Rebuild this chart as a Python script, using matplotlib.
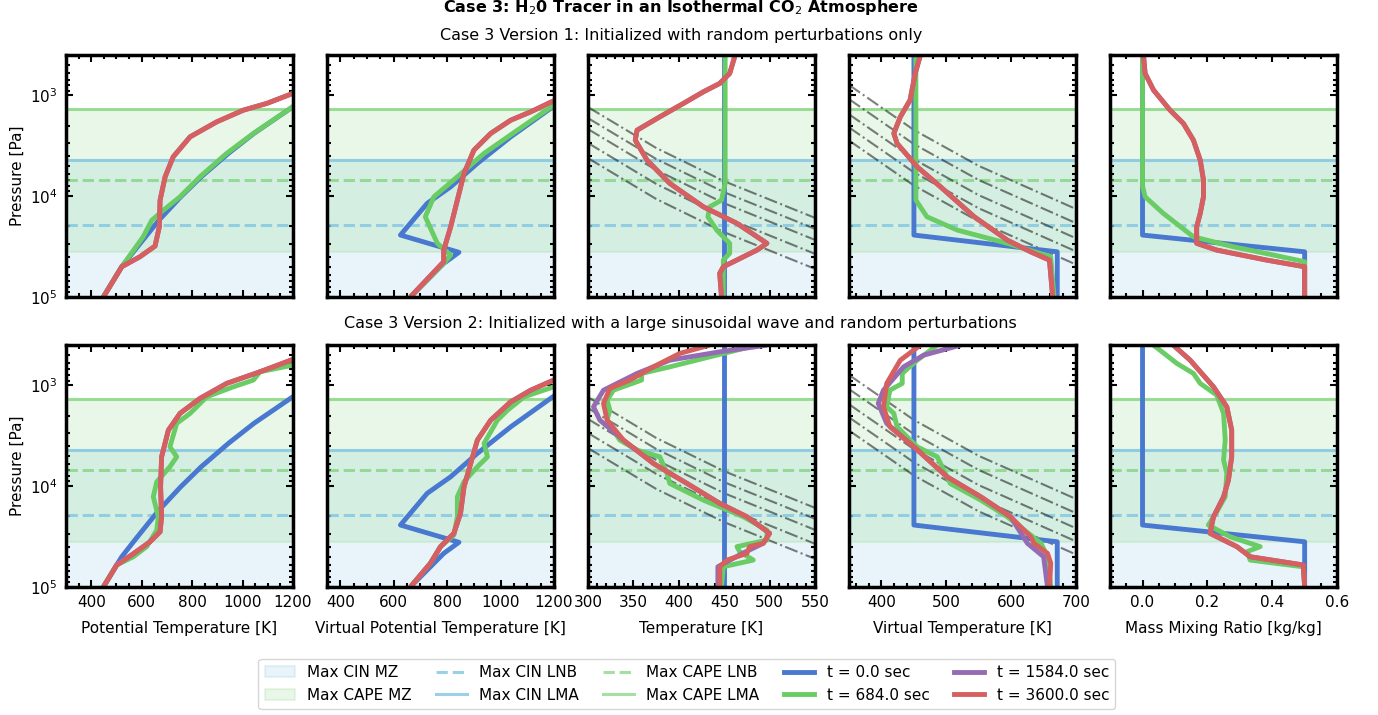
import numpy as np
import matplotlib.pyplot as plt
from matplotlib.lines import Line2D
from matplotlib.patches import Patch
from matplotlib.ticker import AutoMinorLocator, MultipleLocator

# seaborn "muted" colours
c_blue = '#4878d0'
c_green = '#6acc64'
c_purple = '#956cb4'
c_red = '#d65f5f'
c_cin = '#82c6e2'
c_cape = '#6acc64'

# reference levels [Pa]
cape_lma = 1377
cin_lma = 4400
cape_lnb = 6950
cin_lnb = 19400
cape_mz_bot = 35800
p_surf = 1e5

times = ['t = 0.0 sec', 't = 684.0 sec', 't = 1584.0 sec', 't = 3600.0 sec']

# dash-dot reference adiabats (temperature panel / virtual temperature panel)
adi_T = [300, 375, 450, 550]
adi_T_p = [[1315, 3334, 7130, 16440],
           [1690, 4285, 9160, 21130],
           [2170, 5510, 11780, 27160],
           [2985, 7570, 16180, 37330],
           [4210, 10670, 22800, 52600]]
adi_Tv = [350, 450, 550, 700]
adi_Tv_p = [[794, 2213, 5023, 13430],
            [1096, 3055, 6934, 18540],
            [1549, 4315, 9795, 26180],
            [2089, 5821, 13210, 35320],
            [2818, 7852, 17820, 47640]]

# profiles: (x values, log10 pressure)
# --- initial state (same in both versions) ---
theta_t0 = ([448, 521, 584, 668, 755, 836, 944, 1045, 1199, 1490],
            [5.0, 4.70, 4.50, 4.24, 4.007, 3.809, 3.577, 3.379, 3.116, 2.70])
thetav_t0 = ([662, 787, 844, 625, 725, 813, 913, 1038, 1199, 1490],
             [5.0, 4.667, 4.557, 4.386, 4.072, 3.908, 3.676, 3.413, 3.109, 2.70])
temp_t0 = ([450, 450], [2.604, 5.0])
tv_t0 = ([450, 450, 671, 671], [2.604, 4.386, 4.552, 5.0])
q_t0 = ([0.0, 0.0, 0.5, 0.5], [2.604, 4.386, 4.552, 5.0])

# --- version 1 ---
v1_theta_684 = ([448, 521, 606, 640, 686, 752, 831, 937, 1043, 1199, 1490],
                [5.0, 4.70, 4.403, 4.24, 4.14, 4.007, 3.809, 3.577, 3.379, 3.116, 2.70])
v1_theta_3600 = ([448, 521, 593, 653, 670, 673, 693, 725, 792, 898, 1003, 1096, 1199, 1400],
                 [5.0, 4.70, 4.601, 4.495, 4.304, 4.04, 3.809, 3.611, 3.413, 3.264, 3.149, 3.082, 2.983, 2.75])
v1_thetav_684 = ([662, 787, 813, 763, 718, 750, 838, 938, 1063, 1199, 1490],
                 [5.0, 4.667, 4.584, 4.468, 4.205, 4.007, 3.809, 3.577, 3.347, 3.099, 2.70])
v1_thetav_3600 = ([662, 787, 787, 813, 838, 863, 900, 963, 1038, 1113, 1199, 1400],
                  [5.0, 4.65, 4.535, 4.304, 4.04, 3.776, 3.545, 3.379, 3.248, 3.165, 3.056, 2.80])
v1_temp_684 = ([451, 451, 447, 434, 432, 442, 456, 456, 449, 449],
               [2.604, 3.874, 4.04, 4.106, 4.205, 4.34, 4.468, 4.567, 4.634, 5.0])
v1_temp_3600 = ([462, 456, 445, 427, 405, 379, 354, 352, 365, 390, 427, 464, 497, 486, 449, 445, 447],
                [2.604, 2.785, 2.884, 2.967, 3.082, 3.215, 3.347, 3.446, 3.644, 3.874, 4.106, 4.27,
                 4.468, 4.535, 4.70, 4.765, 5.0])
v1_tv_684 = ([453, 453, 470, 517, 594, 661, 666],
             [2.604, 4.04, 4.205, 4.337, 4.468, 4.60, 5.0])
v1_tv_3600 = ([460, 452, 444, 429, 419, 424, 455, 491, 543, 594, 630, 659, 664],
              [2.604, 2.785, 3.05, 3.215, 3.379, 3.478, 3.71, 3.908, 4.205, 4.436, 4.552, 4.634, 5.0])
v1_q_684 = ([0.0, 0.0, 0.008, 0.064, 0.157, 0.28, 0.404, 0.5, 0.5],
            [2.604, 3.90, 4.007, 4.171, 4.403, 4.502, 4.584, 4.65, 5.0])
v1_q_3600 = ([0.003, 0.008, 0.034, 0.085, 0.126, 0.157, 0.178, 0.188, 0.188, 0.178, 0.167, 0.167,
              0.229, 0.383, 0.5, 0.5],
             [2.604, 2.785, 2.95, 3.149, 3.28, 3.446, 3.644, 3.842, 4.007, 4.171, 4.304, 4.468,
              4.535, 4.634, 4.70, 5.0])

# --- version 2 ---
v2_theta_684 = ([448, 501, 567, 620, 660, 666, 646, 660, 712, 739, 712, 739, 792, 858, 963, 1043, 1069,
                 1199, 1350],
                [5.0, 4.782, 4.70, 4.60, 4.436, 4.304, 4.106, 3.957, 3.809, 3.71, 3.611, 3.379, 3.28,
                 3.116, 3.017, 2.95, 2.868, 2.802, 2.68])
v2_theta_3600 = ([448, 501, 567, 633, 673, 679, 675, 679, 706, 752, 831, 937, 1069, 1199, 1350],
                 [5.0, 4.782, 4.67, 4.552, 4.453, 4.304, 4.007, 3.71, 3.446, 3.28, 3.132, 2.983, 2.868,
                  2.746, 2.62])
v2_thetav_684 = ([662, 737, 775, 825, 838, 838, 863, 913, 951, 938, 988, 1026, 1088, 1199, 1350],
                 [5.0, 4.765, 4.60, 4.485, 4.304, 4.106, 3.957, 3.809, 3.71, 3.577, 3.347, 3.248, 3.116,
                  3.017, 2.87])
v2_thetav_3600 = ([662, 737, 775, 825, 850, 863, 888, 913, 963, 1038, 1113, 1199, 1350],
                  [5.0, 4.765, 4.60, 4.468, 4.27, 4.007, 3.776, 3.545, 3.347, 3.165, 3.05, 2.95, 2.80])
v2_temp_684 = ([486, 434, 390, 359, 359, 328, 321, 324, 321, 335, 354, 379, 387, 390, 427, 471, 497, 497,
                464, 467, 482, 449, 447],
               [2.604, 2.72, 2.819, 2.884, 2.95, 3.05, 3.149, 3.248, 3.347, 3.545, 3.644, 3.71, 3.874,
                3.974, 4.139, 4.304, 4.436, 4.535, 4.60, 4.65, 4.733, 4.799, 5.0])
v2_temp_1584 = ([497, 445, 390, 354, 317, 306, 313, 339, 372, 409, 445, 475, 500, 493, 470, 443, 443],
                [2.604, 2.67, 2.753, 2.884, 3.05, 3.215, 3.347, 3.545, 3.776, 3.974, 4.171, 4.304, 4.468,
                 4.567, 4.667, 4.799, 5.0])
v2_temp_3600 = ([434, 401, 372, 346, 324, 317, 321, 339, 372, 409, 445, 475, 500, 493, 478, 475, 453, 445,
                 445],
                [2.604, 2.686, 2.819, 2.95, 3.033, 3.181, 3.347, 3.545, 3.776, 3.974, 4.171, 4.304, 4.468,
                 4.567, 4.60, 4.667, 4.733, 4.799, 5.0])
v2_tv_684 = ([486, 455, 432, 432, 413, 408, 419, 424, 455, 486, 496, 506, 553, 594, 630, 646, 656, 661],
             [2.604, 2.753, 2.884, 2.983, 3.05, 3.215, 3.28, 3.413, 3.611, 3.71, 3.842, 3.974, 4.139,
              4.304, 4.485, 4.567, 4.70, 5.0])
v2_tv_1584 = ([522, 465, 434, 403, 395, 408, 450, 501, 553, 599, 625, 650, 656],
              [2.604, 2.703, 2.819, 3.05, 3.181, 3.379, 3.611, 3.908, 4.106, 4.304, 4.567, 4.70, 5.0])
v2_tv_3600 = ([460, 429, 408, 403, 413, 450, 501, 553, 599, 630, 635, 656, 661, 659],
              [2.604, 2.753, 2.983, 3.215, 3.413, 3.611, 3.908, 4.106, 4.304, 4.502, 4.567, 4.667, 4.765, 5.0])
v2_q_684 = ([0.034, 0.106, 0.157, 0.178, 0.229, 0.25, 0.255, 0.25, 0.26, 0.255, 0.229, 0.203, 0.27, 0.363,
             0.322, 0.332, 0.496, 0.5],
            [2.604, 2.785, 2.884, 2.983, 3.099, 3.28, 3.545, 3.743, 3.874, 4.106, 4.254, 4.386, 4.502, 4.60,
             4.65, 4.733, 4.80, 5.0])
v2_q_3600 = ([0.095, 0.147, 0.219, 0.26, 0.275, 0.275, 0.265, 0.25, 0.219, 0.208, 0.291, 0.332, 0.496, 0.5],
             [2.604, 2.753, 3.017, 3.215, 3.446, 3.71, 3.94, 4.106, 4.304, 4.468, 4.60, 4.70, 4.782, 5.0])

# panel order: theta, theta_v, T, Tv, q ; series order t0, 684, 1584, 3600
rows = [
    [[theta_t0, v1_theta_684, v1_theta_3600, v1_theta_3600],
     [thetav_t0, v1_thetav_684, v1_thetav_3600, v1_thetav_3600],
     [temp_t0, v1_temp_684, v1_temp_3600, v1_temp_3600],
     [tv_t0, v1_tv_684, v1_tv_3600, v1_tv_3600],
     [q_t0, v1_q_684, v1_q_3600, v1_q_3600]],
    [[theta_t0, v2_theta_684, v2_theta_3600, v2_theta_3600],
     [thetav_t0, v2_thetav_684, v2_thetav_3600, v2_thetav_3600],
     [temp_t0, v2_temp_684, v2_temp_1584, v2_temp_3600],
     [tv_t0, v2_tv_684, v2_tv_1584, v2_tv_3600],
     [q_t0, v2_q_684, v2_q_3600, v2_q_3600]],
]
colors = [c_blue, c_green, c_purple, c_red]

xlabels = ['Potential Temperature [K]', 'Virtual Potential Temperature [K]', 'Temperature [K]',
           'Virtual Temperature [K]', 'Mass Mixing Ratio [kg/kg]']
xlims = [(300, 1200), (350, 1200), (300, 550), (350, 700), (-0.1, 0.6)]
xmajor = [200, 200, 50, 100, 0.2]

fig, axes = plt.subplots(2, 5, figsize=(13.78, 7.15), dpi=100)
fig.subplots_adjust(left=0.0479, right=0.9703, top=0.9231, bottom=0.179, wspace=0.15, hspace=0.198)

for r in range(2):
    for c in range(5):
        ax = axes[r, c]
        ax.set_yscale('log')
        ax.axhspan(cin_lma, p_surf, facecolor=c_cin, alpha=0.18, edgecolor=c_cin, lw=1.5)
        ax.axhspan(cape_lma, cape_mz_bot, facecolor=c_cape, alpha=0.15, edgecolor=c_cape, lw=1.5)
        ax.axhline(cin_lnb, color=c_cin, ls='--', lw=2.2, alpha=0.8)
        ax.axhline(cin_lma, color=c_cin, lw=2.2, alpha=0.8)
        ax.axhline(cape_lnb, color=c_cape, ls='--', lw=2.2, alpha=0.6)
        ax.axhline(cape_lma, color=c_cape, lw=2.2, alpha=0.6)

        if c == 2:
            for pp in adi_T_p:
                ax.plot(adi_T, pp, color='k', ls='-.', lw=1.5, alpha=0.5)
        if c == 3:
            for pp in adi_Tv_p:
                ax.plot(adi_Tv, pp, color='k', ls='-.', lw=1.5, alpha=0.5)

        for (xs, lps), col in zip(rows[r][c], colors):
            ax.plot(xs, 10 ** np.array(lps), color=col, lw=3.5, solid_capstyle='butt')

        ax.set_xlim(*xlims[c])
        ax.set_ylim(1e5, 400)
        ax.xaxis.set_major_locator(MultipleLocator(xmajor[c]))
        ax.xaxis.set_minor_locator(AutoMinorLocator())
        ax.tick_params(which='both', direction='in', top=True, right=True, width=1.5, labelsize=11)
        ax.tick_params(which='major', length=5, pad=6)
        ax.tick_params(which='minor', length=3)
        for s in ax.spines.values():
            s.set_linewidth(2.5)
        if c > 0:
            ax.yaxis.set_tick_params(which='both', labelleft=False)
        else:
            ax.set_ylabel('Pressure [Pa]', fontsize=11)
        if r == 0:
            ax.tick_params(labelbottom=False)
        else:
            ax.set_xlabel(xlabels[c], fontsize=11, labelpad=8)
            if c == 4:
                ax.xaxis.set_major_formatter(plt.FormatStrFormatter('%.1f'))

fig.text(0.494, 0.989, r'Case 3: H$_2$0 Tracer in an Isothermal CO$_2$ Atmosphere',
         ha='center', va='center', fontsize=11.5, fontweight='bold')
fig.text(0.494, 0.951, 'Case 3 Version 1: Initialized with random perturbations only',
         ha='center', va='center', fontsize=11.5)
fig.text(0.494, 0.548, 'Case 3 Version 2: Initialized with a large sinusoidal wave and random perturbations',
         ha='center', va='center', fontsize=11.5)

handles = [
    Patch(facecolor=c_cin, alpha=0.18, edgecolor=c_cin, lw=1.5, label='Max CIN MZ'),
    Patch(facecolor=c_cape, alpha=0.15, edgecolor=c_cape, lw=1.5, label='Max CAPE MZ'),
    Line2D([], [], color=c_cin, ls='--', lw=2.2, alpha=0.8, label='Max CIN LNB'),
    Line2D([], [], color=c_cin, lw=2.2, alpha=0.8, label='Max CIN LMA'),
    Line2D([], [], color=c_cape, ls='--', lw=2.2, alpha=0.6, label='Max CAPE LNB'),
    Line2D([], [], color=c_cape, lw=2.2, alpha=0.6, label='Max CAPE LMA'),
]
for t, col in zip(times, colors):
    handles.append(Line2D([], [], color=col, lw=3.5, label=t))

fig.legend(handles=handles, loc='center', bbox_to_anchor=(0.4985, 0.0434), ncol=5, fontsize=11,
           frameon=True, columnspacing=1.6)

fig.savefig('out.png', dpi=100)
